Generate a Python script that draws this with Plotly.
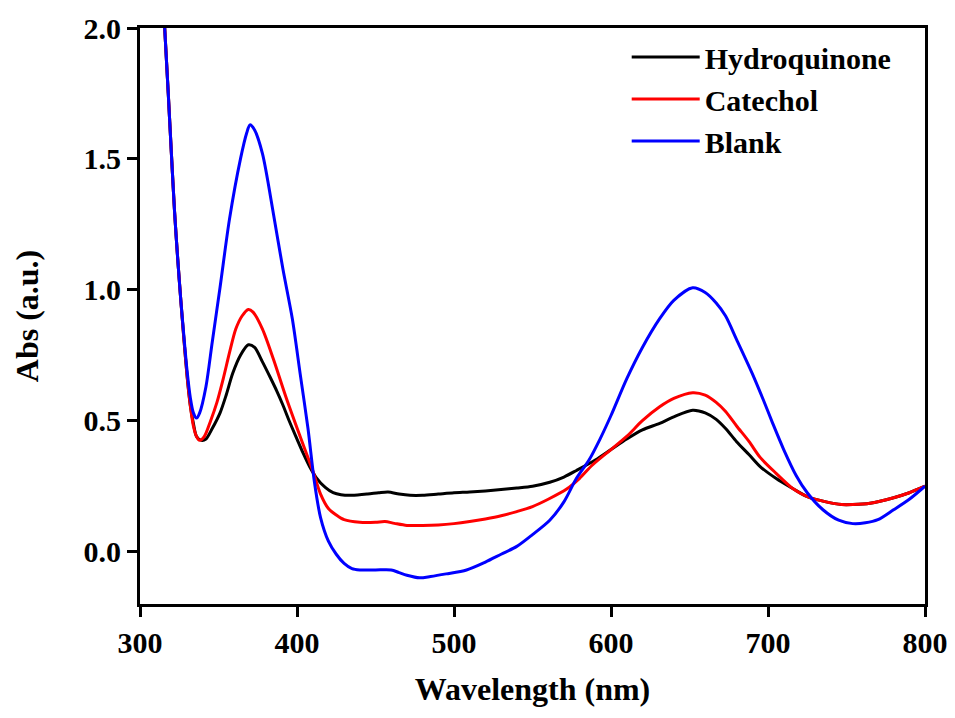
import plotly.graph_objects as go

# UV-vis spectra (wavelength in nm, absorbance in a.u.)
hq_wl = [315, 318, 320, 322, 324, 326, 328, 330, 332, 334, 336, 339, 342, 346, 351, 355,
         359, 364, 369, 373, 378, 383, 387, 391, 395, 400, 404, 408, 412, 418, 423, 428,
         435, 445, 452, 458, 465, 472, 480, 490, 500, 510, 520, 530, 540, 550, 561, 570,
         578, 590, 600, 610, 620, 631, 640, 652, 660, 667, 673, 680, 688, 695, 705, 716,
         725, 737, 747, 754, 765, 780, 790, 800]
hq_abs = [2.08, 1.75, 1.52, 1.30, 1.12, 0.96, 0.81, 0.67, 0.56, 0.49, 0.44, 0.425, 0.43,
          0.47, 0.53, 0.60, 0.68, 0.75, 0.79, 0.78, 0.725, 0.665, 0.615, 0.56, 0.50, 0.43,
          0.375, 0.325, 0.285, 0.245, 0.225, 0.217, 0.215, 0.22, 0.225, 0.228, 0.22, 0.215,
          0.215, 0.22, 0.225, 0.228, 0.232, 0.237, 0.243, 0.25, 0.265, 0.285, 0.31, 0.35,
          0.39, 0.43, 0.465, 0.49, 0.515, 0.54, 0.53, 0.505, 0.47, 0.42, 0.37, 0.325, 0.28,
          0.24, 0.21, 0.19, 0.18, 0.18, 0.185, 0.206, 0.225, 0.25]

cat_wl = [315, 318, 320, 322, 324, 326, 328, 330, 332, 334, 336, 338, 341, 345, 349, 353,
          357, 361, 365, 369, 372, 378, 385, 393, 402, 410, 415, 420, 425, 430, 440, 450,
          456, 462, 470, 480, 490, 500, 510, 520, 530, 540, 550, 560, 572, 580, 588, 600,
          610, 620, 631, 640, 652, 660, 667, 673, 680, 688, 695, 705, 716, 725, 737, 747,
          754, 765, 780, 790, 800]
cat_abs = [2.08, 1.75, 1.52, 1.30, 1.12, 0.96, 0.81, 0.67, 0.56, 0.48, 0.44, 0.425, 0.44,
           0.50, 0.57, 0.66, 0.76, 0.85, 0.90, 0.925, 0.915, 0.85, 0.735, 0.59, 0.44, 0.31,
           0.22, 0.165, 0.14, 0.122, 0.112, 0.112, 0.115, 0.108, 0.10, 0.10, 0.102, 0.107,
           0.115, 0.125, 0.137, 0.153, 0.172, 0.20, 0.24, 0.28, 0.33, 0.39, 0.44, 0.50,
           0.553, 0.585, 0.607, 0.598, 0.57, 0.535, 0.48, 0.42, 0.36, 0.30, 0.24, 0.21,
           0.19, 0.18, 0.18, 0.185, 0.206, 0.225, 0.25]

blank_wl = [315, 318, 320, 322, 324, 326, 328, 330, 332, 334, 336, 338, 342, 346, 351, 357,
            364, 368, 370, 373, 378, 385, 391, 397, 402, 407, 411, 415, 420, 425, 430, 435,
            440, 450, 460, 465, 470, 478, 485, 495, 508, 520, 530, 540, 550, 561, 570, 578,
            586, 593, 600, 610, 620, 631, 640, 652, 660, 667, 673, 680, 690, 697, 703, 710,
            718, 725, 735, 745, 754, 762, 770, 780, 790, 800]
blank_abs = [2.08, 1.75, 1.52, 1.30, 1.12, 0.96, 0.82, 0.69, 0.59, 0.53, 0.51, 0.53, 0.63,
             0.80, 1.01, 1.27, 1.50, 1.60, 1.63, 1.61, 1.52, 1.29, 1.08, 0.89, 0.68, 0.47,
             0.27, 0.13, 0.04, -0.01, -0.045, -0.065, -0.07, -0.07, -0.07, -0.08, -0.09,
             -0.10, -0.095, -0.085, -0.07, -0.04, -0.01, 0.02, 0.065, 0.12, 0.19, 0.28,
             0.35, 0.43, 0.52, 0.66, 0.78, 0.89, 0.96, 1.008, 0.99, 0.95, 0.90, 0.81, 0.68,
             0.58, 0.49, 0.39, 0.29, 0.225, 0.16, 0.12, 0.107, 0.11, 0.122, 0.16, 0.20, 0.25]

series = [
    ("Hydroquinone", hq_wl, hq_abs, "black"),
    ("Catechol", cat_wl, cat_abs, "#ff0000"),
    ("Blank", blank_wl, blank_abs, "#0000ff"),
]

font_family = "Liberation Serif, Times New Roman, serif"

fig = go.Figure()
for name, wl, ab, color in series:
    fig.add_trace(go.Scatter(x=wl, y=ab, name=name, mode="lines",
                             line=dict(color=color, width=3, shape="spline", smoothing=0.8)))

axis_style = dict(
    automargin=False,
    showgrid=False,
    zeroline=False,
    showline=True,
    linecolor="black",
    linewidth=3,
    mirror=True,
    ticks="outside",
    ticklen=10,
    tickwidth=3,
    tickcolor="black",
    tickfont=dict(family=font_family, size=30, weight="bold", color="black"),
)

# the page body adds an 8px offset, so the figure is sized a little smaller
fig.update_layout(
    width=947,
    height=710,
    margin=dict(l=132, r=30, t=20, b=114),
    plot_bgcolor="white",
    paper_bgcolor="white",
    font=dict(family=font_family, size=30, color="black", weight="bold"),
    showlegend=True,
    legend=dict(
        x=0.62, y=0.995, xanchor="left", yanchor="top",
        bgcolor="rgba(0,0,0,0)",
        font=dict(family=font_family, size=30, weight="bold", color="black"),
        itemwidth=68,
    ),
    xaxis=dict(range=[300, 800], tickvals=[300, 400, 500, 600, 700, 800],
               title=dict(text="Wavelength (nm)", standoff=20,
                          font=dict(family=font_family, size=32, weight="bold")),
               **axis_style),
    yaxis=dict(range=[-0.2, 2.0], tickvals=[0, 0.5, 1.0, 1.5, 2.0], tickformat=".1f",
               title=dict(text="Abs (a.u.)", standoff=36,
                          font=dict(family=font_family, size=32, weight="bold")),
               **axis_style),
)

fig.write_html("out.html")
